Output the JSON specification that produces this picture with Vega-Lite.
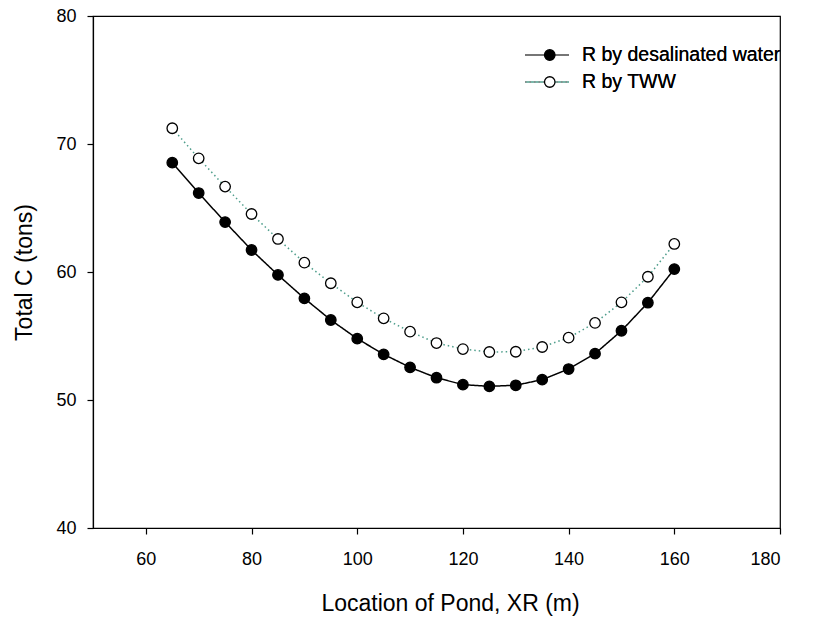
{
  "$schema": "https://vega.github.io/schema/vega-lite/v6.json",
  "width": 687,
  "height": 512,
  "autosize": {"type": "none"},
  "padding": {"left": 93, "top": 16, "right": 43, "bottom": 89},
  "background": "white",
  "config": {
    "font": "Liberation Sans",
    "view": {"stroke": "black", "strokeWidth": 1.2},
    "axis": {
      "grid": false,
      "domainColor": "black",
      "domainWidth": 1.2,
      "tickColor": "black",
      "tickWidth": 1.2,
      "tickSize": 6,
      "labelFont": "Liberation Sans",
      "labelFontSize": 18,
      "labelColor": "black",
      "titleFont": "Liberation Sans",
      "titleFontSize": 23,
      "titleFontWeight": "normal",
      "titleColor": "black"
    },
    "legend": {
      "padding": 0,
      "labelFont": "Liberation Sans",
      "labelFontSize": 19.5,
      "labelColor": "black",
      "labelLimit": 0,
      "clipHeight": 22,
      "rowPadding": 5
    }
  },
  "data": {
    "values": [
      {"x": 65, "C": 68.54, "series": "R by desalinated water"},
      {"x": 70, "C": 66.17, "series": "R by desalinated water"},
      {"x": 75, "C": 63.9, "series": "R by desalinated water"},
      {"x": 80, "C": 61.72, "series": "R by desalinated water"},
      {"x": 85, "C": 59.77, "series": "R by desalinated water"},
      {"x": 90, "C": 57.94, "series": "R by desalinated water"},
      {"x": 95, "C": 56.25, "series": "R by desalinated water"},
      {"x": 100, "C": 54.79, "series": "R by desalinated water"},
      {"x": 105, "C": 53.57, "series": "R by desalinated water"},
      {"x": 110, "C": 52.55, "series": "R by desalinated water"},
      {"x": 115, "C": 51.74, "series": "R by desalinated water"},
      {"x": 120, "C": 51.2, "series": "R by desalinated water"},
      {"x": 125, "C": 51.07, "series": "R by desalinated water"},
      {"x": 130, "C": 51.15, "series": "R by desalinated water"},
      {"x": 135, "C": 51.59, "series": "R by desalinated water"},
      {"x": 140, "C": 52.42, "series": "R by desalinated water"},
      {"x": 145, "C": 53.62, "series": "R by desalinated water"},
      {"x": 150, "C": 55.41, "series": "R by desalinated water"},
      {"x": 155, "C": 57.6, "series": "R by desalinated water"},
      {"x": 160, "C": 60.23, "series": "R by desalinated water"},
      {"x": 65, "C": 71.23, "series": "R by TWW"},
      {"x": 70, "C": 68.88, "series": "R by TWW"},
      {"x": 75, "C": 66.67, "series": "R by TWW"},
      {"x": 80, "C": 64.53, "series": "R by TWW"},
      {"x": 85, "C": 62.58, "series": "R by TWW"},
      {"x": 90, "C": 60.73, "series": "R by TWW"},
      {"x": 95, "C": 59.12, "series": "R by TWW"},
      {"x": 100, "C": 57.63, "series": "R by TWW"},
      {"x": 105, "C": 56.38, "series": "R by TWW"},
      {"x": 110, "C": 55.34, "series": "R by TWW"},
      {"x": 115, "C": 54.45, "series": "R by TWW"},
      {"x": 120, "C": 53.98, "series": "R by TWW"},
      {"x": 125, "C": 53.75, "series": "R by TWW"},
      {"x": 130, "C": 53.77, "series": "R by TWW"},
      {"x": 135, "C": 54.14, "series": "R by TWW"},
      {"x": 140, "C": 54.87, "series": "R by TWW"},
      {"x": 145, "C": 56.02, "series": "R by TWW"},
      {"x": 150, "C": 57.63, "series": "R by TWW"},
      {"x": 155, "C": 59.63, "series": "R by TWW"},
      {"x": 160, "C": 62.19, "series": "R by TWW"}
    ]
  },
  "encoding": {
    "x": {
      "field": "x",
      "type": "quantitative",
      "scale": {"domain": [50, 180], "nice": false, "zero": false},
      "axis": {
        "title": "Location of Pond, XR (m)",
        "values": [60, 80, 100, 120, 140, 160, 180],
        "labelPadding": 16,
        "titleBaseline": "alphabetic",
        "titleAlign": "center",
        "titleX": 357,
        "titleY": 82
      }
    },
    "y": {
      "field": "C",
      "type": "quantitative",
      "scale": {"domain": [40, 80], "nice": false, "zero": false},
      "axis": {
        "title": "Total C (tons)",
        "values": [40, 50, 60, 70, 80],
        "labelPadding": 11,
        "titleBaseline": "alphabetic",
        "titleAlign": "center",
        "titleAngle": -90,
        "titleX": -62,
        "titleY": 256
      }
    }
  },
  "layer": [
    {
      "mark": {"type": "line", "strokeWidth": 1.5},
      "encoding": {
        "stroke": {
          "field": "series",
          "type": "nominal",
          "sort": ["R by desalinated water", "R by TWW"],
          "scale": {"range": ["black", "#4f9e8c"]},
          "legend": {
            "title": null,
            "orient": "none",
            "legendX": 431,
            "legendY": 28,
            "symbolType": "stroke",
            "symbolSize": 1936,
            "symbolStrokeWidth": 1.5,
            "labelOffset": 12,
            "labelLimit": 0
          }
        },
        "strokeDash": {
          "field": "series",
          "type": "nominal",
          "sort": ["R by desalinated water", "R by TWW"],
          "scale": {"range": [[1, 0], [1.5, 3]]},
          "legend": {
            "title": null,
            "orient": "none",
            "legendX": 431,
            "legendY": 28,
            "symbolType": "stroke",
            "symbolSize": 1936,
            "symbolStrokeWidth": 1.5,
            "labelOffset": 12,
            "labelLimit": 0
          }
        }
      }
    },
    {
      "mark": {"type": "point", "filled": false, "shape": "circle", "size": 110, "stroke": "black", "strokeWidth": 1.3, "opacity": 1},
      "encoding": {
        "fill": {
          "field": "series",
          "type": "nominal",
          "scale": {"domain": ["R by desalinated water", "R by TWW"], "range": ["black", "white"]},
          "legend": {
            "title": null,
            "orient": "none",
            "legendX": 447,
            "legendY": 28,
            "symbolType": "circle",
            "symbolSize": 110,
            "symbolStrokeColor": "black",
            "symbolStrokeWidth": 1.3,
            "symbolOpacity": 1,
            "labelExpr": "''"
          }
        }
      }
    }
  ]
}
